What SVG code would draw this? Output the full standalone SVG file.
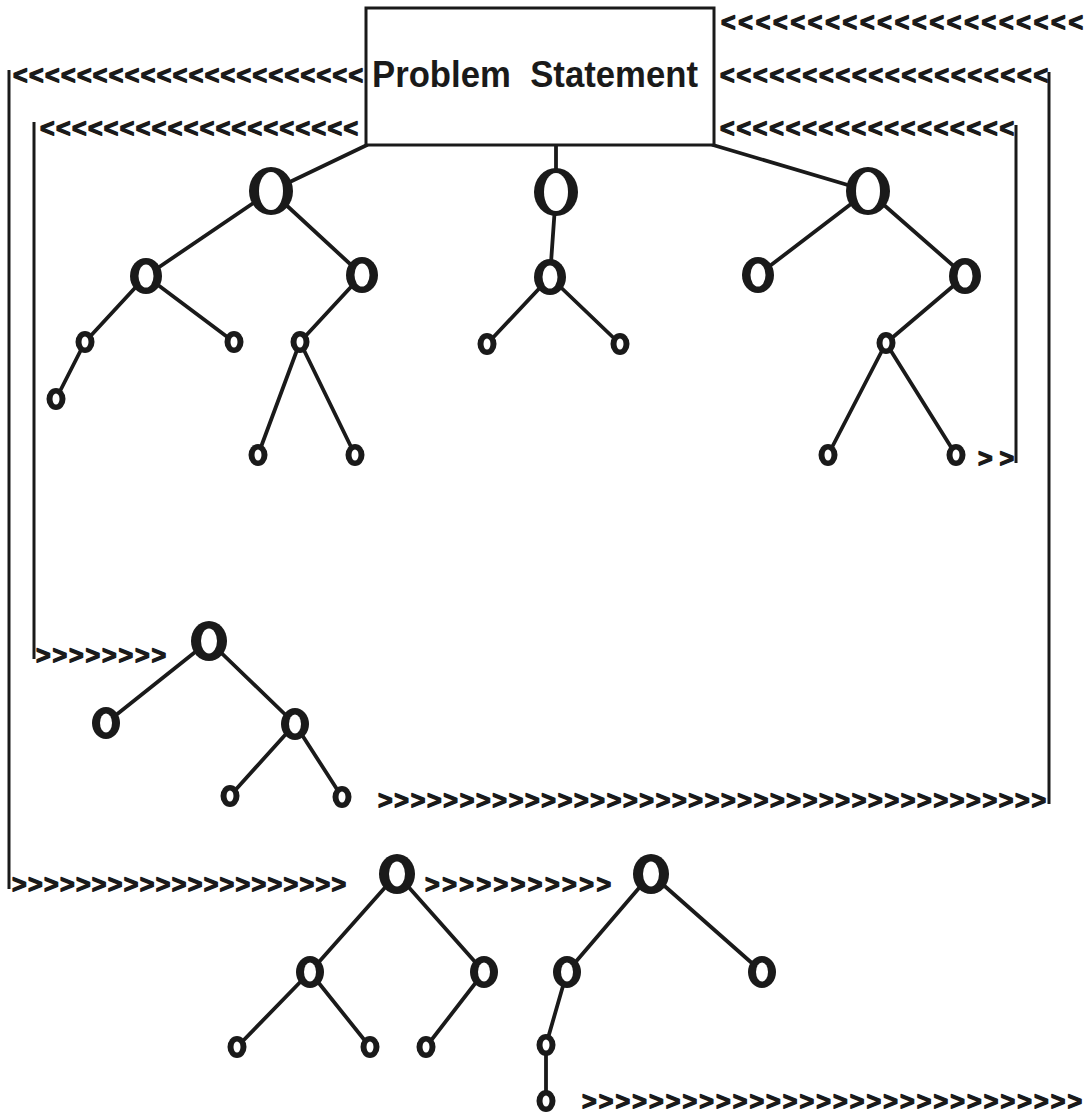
<svg xmlns="http://www.w3.org/2000/svg" xmlns:xlink="http://www.w3.org/1999/xlink" width="1086" height="1113" viewBox="0 0 1086 1113">
  <style>
    .edge { stroke: #1a1a1a; stroke-width: 3.8; stroke-linecap: round; fill: none; }
    .rail { stroke: #1a1a1a; stroke-width: 3; fill: none; }
    .ch { font-family: "Liberation Sans", Arial, sans-serif; font-weight: bold; font-size: 25px; fill: #1a1a1a; stroke: #1a1a1a; stroke-width: 1.3; stroke-linejoin: round; }
    .title { font-family: "Liberation Sans", Arial, sans-serif; font-weight: bold; font-size: 36px; fill: #1a1a1a; }
    .ring { fill: #1a1a1a; }
    .hole { fill: #ffffff; }
  </style>
  <defs>
    <!-- node glyphs: outer dark oval with a white hole -->
    <g id="big"><ellipse class="ring" rx="22" ry="24"/><ellipse class="hole" rx="12" ry="19"/></g>
    <g id="big2"><ellipse class="ring" rx="18" ry="20"/><ellipse class="hole" rx="8" ry="12.5"/></g>
    <g id="med"><ellipse class="ring" rx="16" ry="18"/><ellipse class="hole" rx="7.5" ry="11.5"/></g>
    <g id="med2"><ellipse class="ring" rx="14" ry="16"/><ellipse class="hole" rx="6" ry="9.5"/></g>
    <g id="sm"><ellipse class="ring" rx="9.5" ry="11"/><ellipse class="hole" rx="3.5" ry="5.5"/></g>
  </defs>
  <rect width="1086" height="1113" fill="#ffffff"/>

  <g id="connectors">
    <!-- box to the three top trees -->
    <line class="edge" x1="367" y1="145" x2="271" y2="191"/>
    <line class="edge" x1="556" y1="145" x2="556" y2="192"/>
    <line class="edge" x1="713" y1="145" x2="868" y2="191"/>
    <!-- tree A -->
    <line class="edge" x1="271" y1="191" x2="146" y2="276"/>
    <line class="edge" x1="271" y1="191" x2="362" y2="275"/>
    <line class="edge" x1="146" y1="276" x2="85" y2="342"/>
    <line class="edge" x1="85" y1="342" x2="56" y2="399"/>
    <line class="edge" x1="146" y1="276" x2="234" y2="342"/>
    <line class="edge" x1="362" y1="275" x2="300" y2="342"/>
    <line class="edge" x1="300" y1="342" x2="258" y2="455"/>
    <line class="edge" x1="300" y1="342" x2="355" y2="455"/>
    <!-- tree B -->
    <line class="edge" x1="556" y1="192" x2="550" y2="277"/>
    <line class="edge" x1="550" y1="277" x2="487" y2="344"/>
    <line class="edge" x1="550" y1="277" x2="620" y2="344"/>
    <!-- tree C -->
    <line class="edge" x1="868" y1="191" x2="758" y2="275"/>
    <line class="edge" x1="868" y1="191" x2="965" y2="276"/>
    <line class="edge" x1="965" y1="276" x2="886" y2="343"/>
    <line class="edge" x1="886" y1="343" x2="828" y2="455"/>
    <line class="edge" x1="886" y1="343" x2="956" y2="455"/>
    <!-- tree D -->
    <line class="edge" x1="209" y1="641" x2="106" y2="723"/>
    <line class="edge" x1="209" y1="641" x2="295" y2="724"/>
    <line class="edge" x1="295" y1="724" x2="230" y2="796"/>
    <line class="edge" x1="295" y1="724" x2="342" y2="797"/>
    <!-- tree E -->
    <line class="edge" x1="397" y1="874" x2="310" y2="972"/>
    <line class="edge" x1="397" y1="874" x2="484" y2="972"/>
    <line class="edge" x1="310" y1="972" x2="237" y2="1047"/>
    <line class="edge" x1="310" y1="972" x2="370" y2="1047"/>
    <line class="edge" x1="484" y1="972" x2="426" y2="1047"/>
    <!-- tree F -->
    <line class="edge" x1="651" y1="874" x2="567" y2="972"/>
    <line class="edge" x1="651" y1="874" x2="762" y2="972"/>
    <line class="edge" x1="567" y1="972" x2="546" y2="1045"/>
    <line class="edge" x1="546" y1="1045" x2="546" y2="1101"/>

    <!-- feedback rails -->
    <line class="rail" x1="9" y1="70" x2="9" y2="889"/>
    <line class="rail" x1="34" y1="122" x2="34" y2="659"/>
    <line class="rail" x1="1049" y1="72" x2="1049" y2="804"/>
    <line class="rail" x1="1016" y1="125" x2="1016" y2="463"/>

    <!-- chevron chains -->
    <text class="ch" x="721" y="31" textLength="362" lengthAdjust="spacing">&lt;&lt;&lt;&lt;&lt;&lt;&lt;&lt;&lt;&lt;&lt;&lt;&lt;&lt;&lt;&lt;&lt;&lt;&lt;&lt;&lt;</text>
    <text class="ch" x="720" y="84" textLength="328" lengthAdjust="spacing">&lt;&lt;&lt;&lt;&lt;&lt;&lt;&lt;&lt;&lt;&lt;&lt;&lt;&lt;&lt;&lt;&lt;&lt;&lt;&lt;</text>
    <text class="ch" x="720" y="137" textLength="294" lengthAdjust="spacing">&lt;&lt;&lt;&lt;&lt;&lt;&lt;&lt;&lt;&lt;&lt;&lt;&lt;&lt;&lt;&lt;&lt;&lt;</text>
    <text class="ch" x="13" y="84" textLength="350" lengthAdjust="spacing">&lt;&lt;&lt;&lt;&lt;&lt;&lt;&lt;&lt;&lt;&lt;&lt;&lt;&lt;&lt;&lt;&lt;&lt;&lt;&lt;&lt;&lt;</text>
    <text class="ch" x="40" y="137" textLength="318" lengthAdjust="spacing">&lt;&lt;&lt;&lt;&lt;&lt;&lt;&lt;&lt;&lt;&lt;&lt;&lt;&lt;&lt;&lt;&lt;&lt;&lt;&lt;</text>
    <text class="ch" x="36" y="664" textLength="130" lengthAdjust="spacing">&gt;&gt;&gt;&gt;&gt;&gt;&gt;&gt;</text>
    <text class="ch" x="378" y="809" textLength="668" lengthAdjust="spacing">&gt;&gt;&gt;&gt;&gt;&gt;&gt;&gt;&gt;&gt;&gt;&gt;&gt;&gt;&gt;&gt;&gt;&gt;&gt;&gt;&gt;&gt;&gt;&gt;&gt;&gt;&gt;&gt;&gt;&gt;&gt;&gt;&gt;&gt;&gt;&gt;&gt;&gt;&gt;&gt;&gt;</text>
    <text class="ch" x="978" y="467" textLength="36" lengthAdjust="spacing">&gt;&gt;</text>
    <text class="ch" x="12" y="893" textLength="334" lengthAdjust="spacing">&gt;&gt;&gt;&gt;&gt;&gt;&gt;&gt;&gt;&gt;&gt;&gt;&gt;&gt;&gt;&gt;&gt;&gt;&gt;&gt;&gt;</text>
    <text class="ch" x="425" y="893" textLength="186" lengthAdjust="spacing">&gt;&gt;&gt;&gt;&gt;&gt;&gt;&gt;&gt;&gt;&gt;</text>
    <text class="ch" x="582" y="1110" textLength="500" lengthAdjust="spacing">&gt;&gt;&gt;&gt;&gt;&gt;&gt;&gt;&gt;&gt;&gt;&gt;&gt;&gt;&gt;&gt;&gt;&gt;&gt;&gt;&gt;&gt;&gt;&gt;&gt;&gt;&gt;&gt;&gt;&gt;</text>
  </g>

  <g id="problem-statement">
    <rect x="366" y="8" width="348" height="137" fill="#ffffff" stroke="#1a1a1a" stroke-width="3"/>
    <text class="title" x="372" y="87" textLength="326" lengthAdjust="spacingAndGlyphs" xml:space="preserve">Problem  Statement</text>
  </g>

  <!-- tree A -->
  <g id="a"><use xlink:href="#big" x="271" y="191"/></g>
  <g id="a-l"><use xlink:href="#med" x="146" y="276"/></g>
  <g id="a-r"><use xlink:href="#med" x="362" y="275"/></g>
  <g id="a-l-l"><use xlink:href="#sm" x="85" y="342"/></g>
  <g id="a-l-l-l"><use xlink:href="#sm" x="56" y="399"/></g>
  <g id="a-l-r"><use xlink:href="#sm" x="234" y="342"/></g>
  <g id="a-r-l"><use xlink:href="#sm" x="300" y="342"/></g>
  <g id="a-r-l-l"><use xlink:href="#sm" x="258" y="455"/></g>
  <g id="a-r-l-r"><use xlink:href="#sm" x="355" y="455"/></g>
  <!-- tree B -->
  <g id="b"><use xlink:href="#big" x="556" y="192"/></g>
  <g id="b-1"><use xlink:href="#med" x="550" y="277"/></g>
  <g id="b-1-l"><use xlink:href="#sm" x="487" y="344"/></g>
  <g id="b-1-r"><use xlink:href="#sm" x="620" y="344"/></g>
  <!-- tree C -->
  <g id="c"><use xlink:href="#big" x="868" y="191"/></g>
  <g id="c-l"><use xlink:href="#med" x="758" y="275"/></g>
  <g id="c-r"><use xlink:href="#med" x="965" y="276"/></g>
  <g id="c-r-1"><use xlink:href="#sm" x="886" y="343"/></g>
  <g id="c-r-1-l"><use xlink:href="#sm" x="828" y="455"/></g>
  <g id="c-r-1-r"><use xlink:href="#sm" x="956" y="455"/></g>
  <!-- tree D -->
  <g id="d"><use xlink:href="#big2" x="209" y="641"/></g>
  <g id="d-l"><use xlink:href="#med2" x="106" y="723"/></g>
  <g id="d-r"><use xlink:href="#med2" x="295" y="724"/></g>
  <g id="d-r-l"><use xlink:href="#sm" x="230" y="796"/></g>
  <g id="d-r-r"><use xlink:href="#sm" x="342" y="797"/></g>
  <!-- tree E -->
  <g id="e"><use xlink:href="#big2" x="397" y="874"/></g>
  <g id="e-l"><use xlink:href="#med2" x="310" y="972"/></g>
  <g id="e-r"><use xlink:href="#med2" x="484" y="972"/></g>
  <g id="e-l-l"><use xlink:href="#sm" x="237" y="1047"/></g>
  <g id="e-l-r"><use xlink:href="#sm" x="370" y="1047"/></g>
  <g id="e-r-l"><use xlink:href="#sm" x="426" y="1047"/></g>
  <!-- tree F -->
  <g id="f"><use xlink:href="#big2" x="651" y="874"/></g>
  <g id="f-l"><use xlink:href="#med2" x="567" y="972"/></g>
  <g id="f-r"><use xlink:href="#med2" x="762" y="972"/></g>
  <g id="f-l-1"><use xlink:href="#sm" x="546" y="1045"/></g>
  <g id="f-l-1-1"><use xlink:href="#sm" x="546" y="1101"/></g>
</svg>
